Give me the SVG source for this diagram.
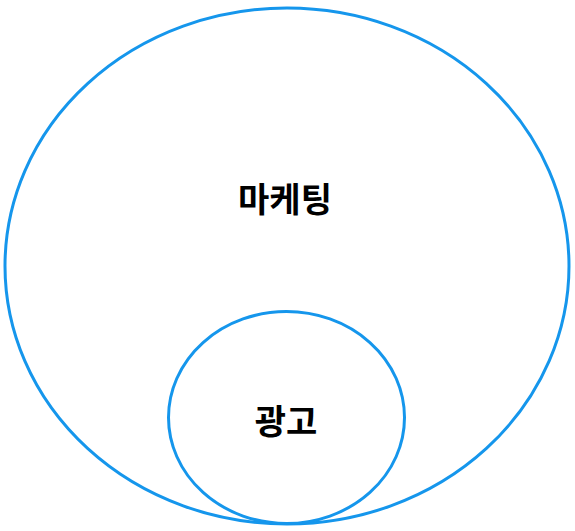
<svg xmlns="http://www.w3.org/2000/svg" width="575" height="531" viewBox="0 0 575 531">
<style>
.c{fill:none;stroke:#1596ec;stroke-width:3}
.t{font-family:"Noto Sans CJK KR","Noto Sans",sans-serif;font-weight:bold;font-size:34px;fill:#000;text-anchor:middle}
</style>
<rect width="575" height="531" fill="#fff"/>
<g id="marketing">
<ellipse class="c" cx="287" cy="266" rx="282" ry="258"/>
<text class="t" x="285" y="212">마케팅</text>
</g>
<g id="ad">
<ellipse class="c" cx="286.5" cy="417.5" rx="118" ry="106"/>
<text class="t" x="286" y="434">광고</text>
</g>
<g id="connectors"></g>
</svg>
